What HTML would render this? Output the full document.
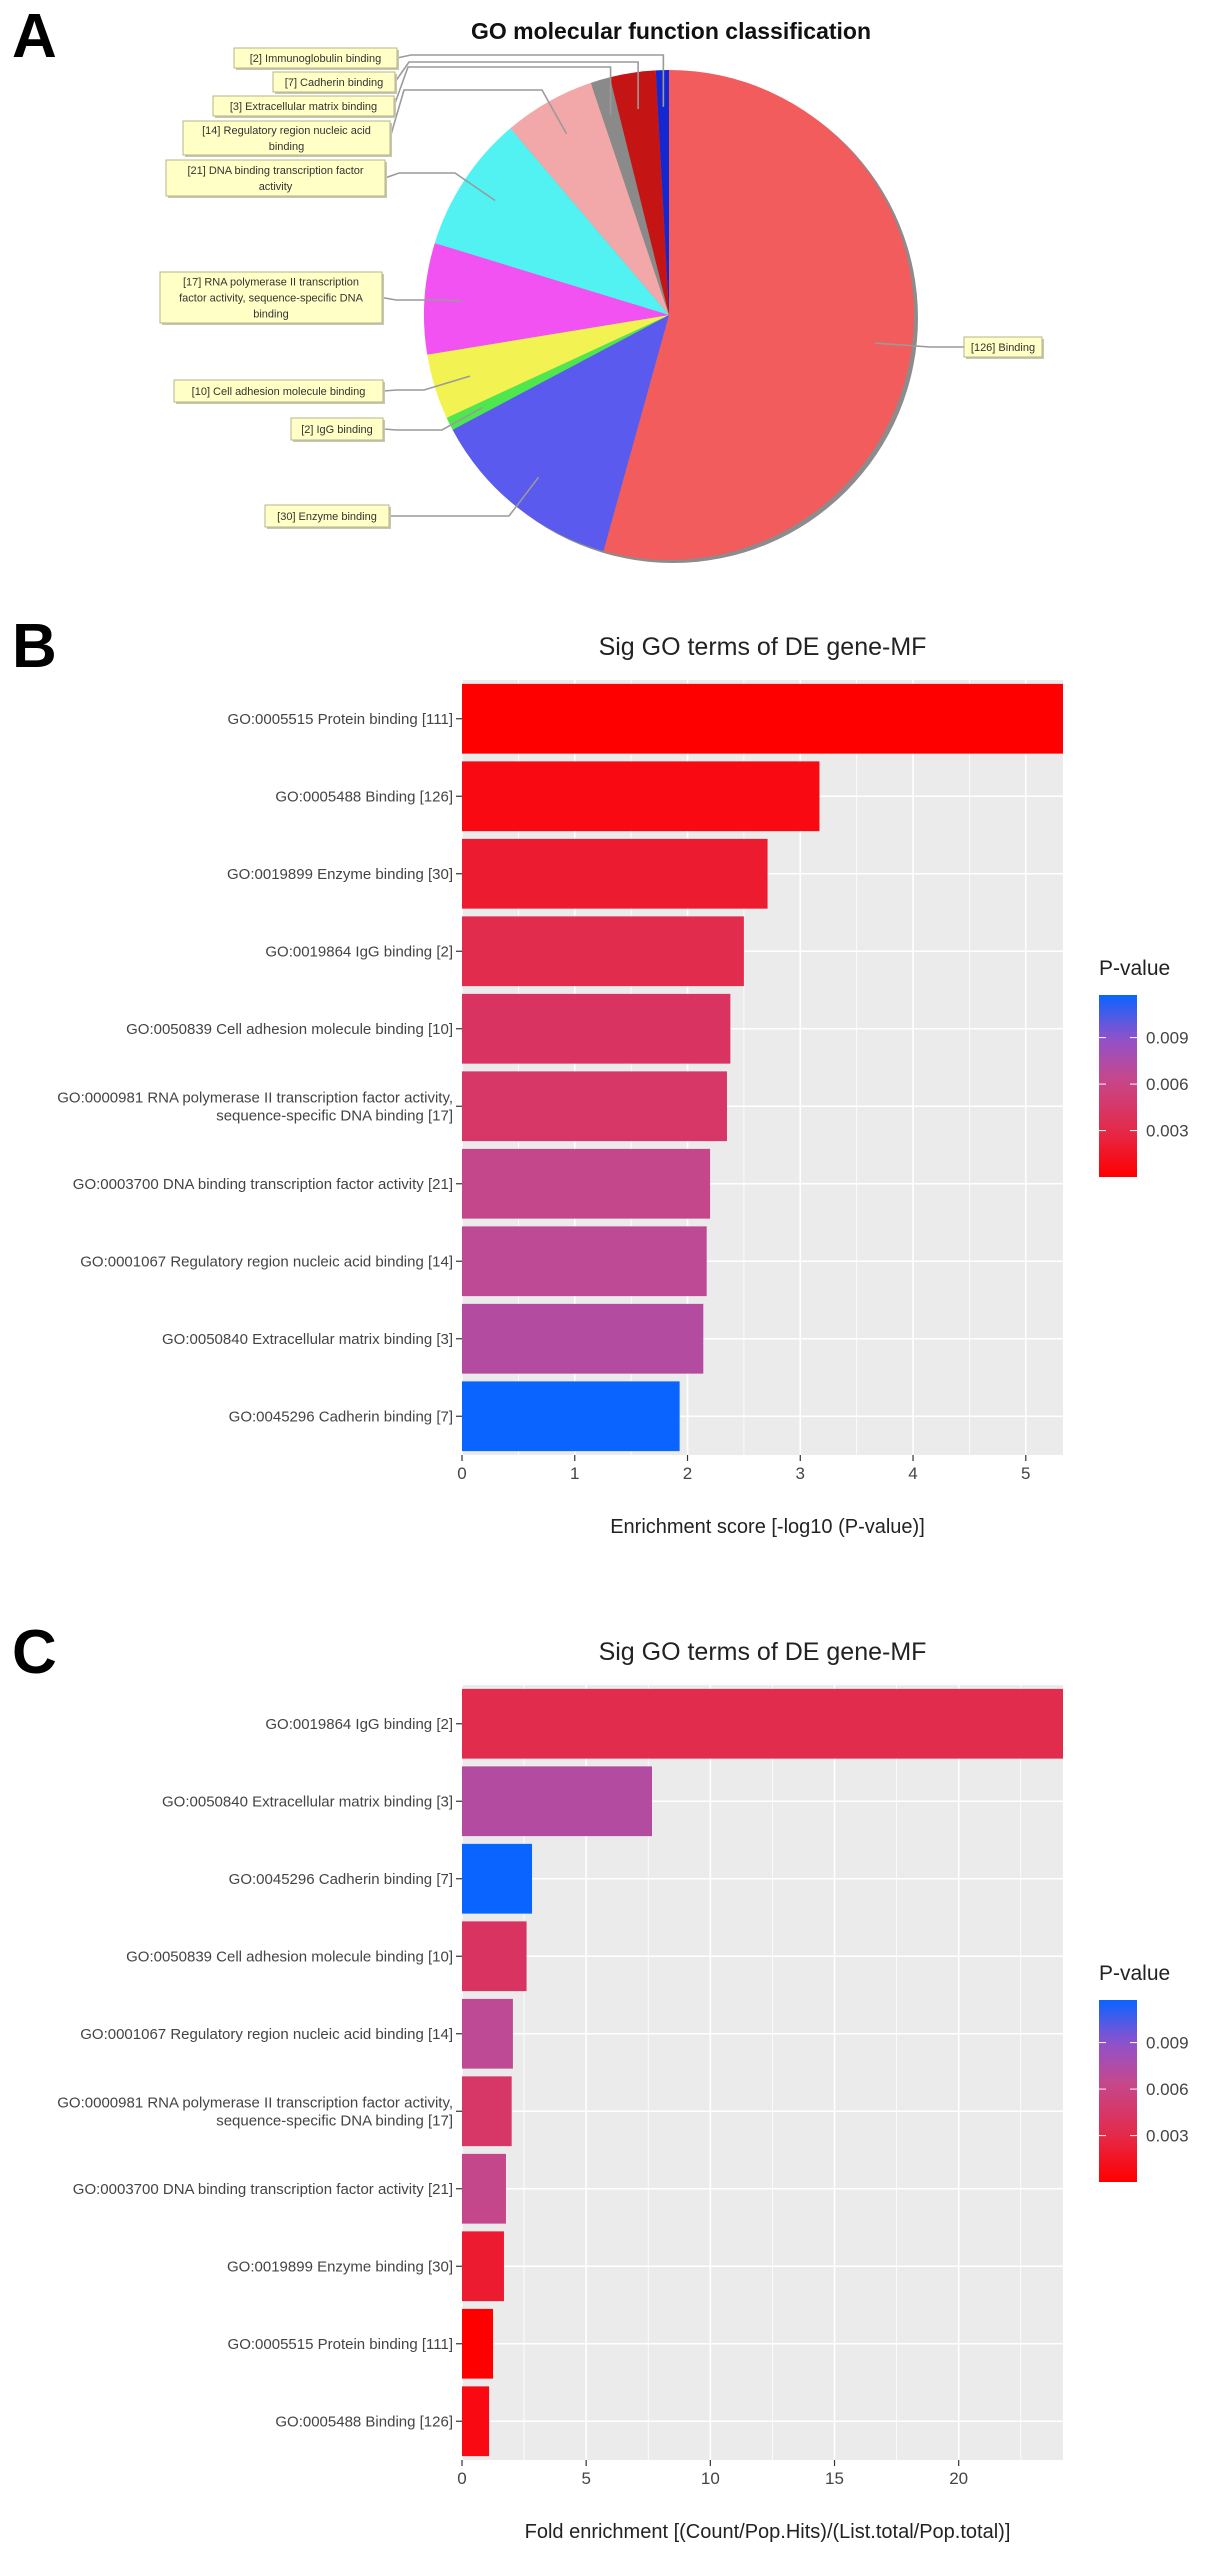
<!DOCTYPE html>
<html><head><meta charset="utf-8"><style>
html,body{margin:0;padding:0;background:#fff}
svg{display:block;font-family:"Liberation Sans",Arial,sans-serif}
</style></head><body>
<svg id="fig" width="1205" height="2556" viewBox="0 0 1205 2556" xmlns="http://www.w3.org/2000/svg">
<defs>
<linearGradient id="pgrad" x1="0" y1="1" x2="0" y2="0"></linearGradient>
</defs>
<text x="12" y="57" font-size="62" font-weight="bold" fill="#000">A</text>
<text x="12" y="667" font-size="62" font-weight="bold" fill="#000">B</text>
<text x="12" y="1673" font-size="62" font-weight="bold" fill="#000">C</text>
<text x="671" y="39" font-size="23" font-weight="bold" fill="#111" text-anchor="middle">GO molecular function classification</text>
<g id="pie"></g>
<g id="chartB"></g>
<g id="chartC"></g>
</svg>
<script>
// ---- Pie data (panel A) ----
const pieLabels = ["Binding","Enzyme binding","IgG binding","Cell adhesion molecule binding","RNA polymerase II transcription factor activity, sequence-specific DNA binding","DNA binding transcription factor activity","Regulatory region nucleic acid binding","Extracellular matrix binding","Cadherin binding","Immunoglobulin binding"];
const pieCounts = [126,30,2,10,17,21,14,3,7,2];
const pieColors = ["#f25c5c","#5a5aee","#4ee84e","#f2f252","#f252f2","#52f2f2","#f2a8a8","#8a8a8a","#c41414","#1428d2"];

// ---- Bar chart data (panels B & C) ----
const goTerms = ["GO:0005515 Protein binding [111]","GO:0005488 Binding [126]","GO:0019899 Enzyme binding [30]","GO:0019864 IgG binding [2]","GO:0050839 Cell adhesion molecule binding [10]","GO:0000981 RNA polymerase II transcription factor activity,|sequence-specific DNA binding [17]","GO:0003700 DNA binding transcription factor activity [21]","GO:0001067 Regulatory region nucleic acid binding [14]","GO:0050840 Extracellular matrix binding [3]","GO:0045296 Cadherin binding [7]"];
const enrichScores = [5.33,3.17,2.71,2.50,2.38,2.35,2.20,2.17,2.14,1.93];
const foldEnrich = [1.25,1.09,1.69,24.2,2.6,2.0,1.77,2.05,7.65,2.82];
const ticksB = [0,1,2,3,4,5];
const ticksC = [0,5,10,15,20];
const legendTicks = [0.003,0.006,0.009];

const NS="http://www.w3.org/2000/svg";
function mk(parent,tag,attrs,txt){const e=document.createElementNS(NS,tag);for(const k in attrs)e.setAttribute(k,attrs[k]);if(txt!==undefined)e.textContent=txt;parent.appendChild(e);return e;}

// ---- Pie ----
(function(){
  const g=document.getElementById('pie');
  const cx=669,cy=315,r=245;
  const total=pieCounts.reduce((a,b)=>a+b,0);
  const sh=mk(g,'circle',{cx:cx+4,cy:cy+3,r:r,fill:'#8c8c8c'});
  
  
  let a0=0; const mids=[];
  function pt(a,rr){const t=a*Math.PI/180;return [cx+rr*Math.sin(t),cy-rr*Math.cos(t)];}
  pieCounts.forEach((c,i)=>{
    const a1=a0+c/total*360;
    const p0=pt(a0,r),p1=pt(a1,r);
    const large=(a1-a0)>180?1:0;
    const s=mk(g,'path',{d:`M${cx},${cy}L${p0[0]},${p0[1]}A${r},${r} 0 ${large} 1 ${p1[0]},${p1[1]}Z`,fill:pieColors[i]});
    
    
    mids.push((a0+a1)/2); a0=a1;
  });
  // label boxes: layout only [x1,y1,x2,y2, elbowY, kneeX]
  const boxes=[[964,337,1042,357,347,930],[265,505,389,527,516,509],[291,418,383,440,430,442],[174,380,383,402,390,424],[160,272,382,323,300,440],[166,160,385,196,173,455],[183,121,390,155,90,542],[213,96,394,116,67,null],[273,72,395,92,62,null],[234,48,397,68,55,null]];
  const lines=[["["+pieCounts[0]+"] Binding"],["["+pieCounts[1]+"] Enzyme binding"],["["+pieCounts[2]+"] IgG binding"],["["+pieCounts[3]+"] Cell adhesion molecule binding"],["["+pieCounts[4]+"] RNA polymerase II transcription","factor activity, sequence-specific DNA","binding"],["["+pieCounts[5]+"] DNA binding transcription factor","activity"],["["+pieCounts[6]+"] Regulatory region nucleic acid","binding"],["["+pieCounts[7]+"] Extracellular matrix binding"],["["+pieCounts[8]+"] Cadherin binding"],["["+pieCounts[9]+"] Immunoglobulin binding"]];
  boxes.forEach((b,i)=>{
    const p=pt(mids[i],r*0.85);
    const left=(i===0);
    const bx=left?b[0]:b[2], bym=(b[1]+b[3])/2;
    const kx=b[5]===null?p[0]:b[5];
    const dx=left?-14:14;
    const ln=mk(g,'polyline',{points:`${bx},${bym} ${bx+dx},${b[4]} ${kx},${b[4]} ${p[0]},${p[1]}`,fill:'none',stroke:'#9a9a9a','stroke-width':1.6});
    
    
    const bs=mk(g,'rect',{x:b[0]+2,y:b[1]+2,width:b[2]-b[0],height:b[3]-b[1],fill:'#c8c8b0'});
    
    
    const br=mk(g,'rect',{x:b[0],y:b[1],width:b[2]-b[0],height:b[3]-b[1],fill:'#ffffc6',stroke:'#b4b48c','stroke-width':1});
    
    
    const L=lines[i]; const h=b[3]-b[1]; const lh=16;
    const y0=b[1]+h/2-(L.length-1)*lh/2+4;
    L.forEach((t,j)=>{
      const tx=mk(g,'text',{x:(b[0]+b[2])/2,y:y0+j*lh,'font-size':11,fill:'#333','text-anchor':'middle'},t);
      
      
    });
  });
})();

// ---- color scale for p-values ----
const stops=[[0,[255,0,0]],[0.27,[226,44,78]],[0.55,[196,72,142]],[0.77,[140,82,205]],[1,[10,100,255]]];
function col(t){t=Math.max(0,Math.min(1,t));for(let i=1;i<stops.length;i++){if(t<=stops[i][0]){const a=stops[i-1],b=stops[i];const f=(t-a[0])/(b[0]-a[0]);const c=a[1].map((v,k)=>Math.round(v+(b[1][k]-v)*f));return `rgb(${c[0]},${c[1]},${c[2]})`;}}return 'rgb(10,100,255)';}
const pvals=enrichScores.map(s=>Math.pow(10,-s));
const pmin=Math.min(...pvals),pmax=Math.max(...pvals);
function pT(p){return (p-pmin)/(pmax-pmin);}
(function(){const gr=document.getElementById('pgrad');for(let i=0;i<=20;i++){mk(gr,'stop',{offset:(i/20),'stop-color':col(i/20)});}})();

function drawChart(gid,order,values,xmax,ticks,minorStep,top,axisTitle){
  const g=document.getElementById(gid);
  const x0=462,x1=1063,bot=top+775;
  const n=order.length,band=(bot-top)/n,bh=band*0.9;
  const X=v=>x0+v/xmax*(x1-x0);
  const bg=mk(g,'rect',{x:x0,y:top,width:x1-x0,height:bot-top,fill:'#ebebeb'});
  
  
  for(let v=minorStep;v<xmax;v+=minorStep*2){const l=mk(g,'line',{x1:X(v),x2:X(v),y1:top,y2:bot,stroke:'#fff','stroke-width':0.8});
    
    }
  ticks.forEach(v=>{const l=mk(g,'line',{x1:X(v),x2:X(v),y1:top,y2:bot,stroke:'#fff','stroke-width':1.6});
    
    });
  order.forEach((idx,k)=>{const yc=top+band*(k+0.5);
    const l=mk(g,'line',{x1:x0,x2:x1,y1:yc,y2:yc,stroke:'#fff','stroke-width':1.6});
    
    });
  order.forEach((idx,k)=>{
    const yc=top+band*(k+0.5);
    const v=Math.min(values[idx],xmax);
    const r=mk(g,'rect',{x:x0,y:yc-bh/2,width:X(v)-x0,height:bh,fill:col(pT(pvals[idx]))});
    
    
    const tk=mk(g,'line',{x1:x0-6,x2:x0,y1:yc,y2:yc,stroke:'#333','stroke-width':1.2});
    
    
    const parts=goTerms[idx].split('|');
    parts.forEach((t,j)=>{
      const ty=yc+5+(j-(parts.length-1)/2)*18;
      const tx=mk(g,'text',{x:x0-9,y:ty,'font-size':15,fill:'#444','text-anchor':'end'},t);
      
      
    });
  });
  ticks.forEach(v=>{
    const tk=mk(g,'line',{x1:X(v),x2:X(v),y1:bot,y2:bot+6,stroke:'#333','stroke-width':1.2});
    
    
    const tx=mk(g,'text',{x:X(v),y:bot+24,'font-size':17,fill:'#444','text-anchor':'middle'},String(v));
    
    
  });
  const tt=mk(g,'text',{x:(x0+x1)/2,y:top-25,'font-size':25,fill:'#222','text-anchor':'middle'},'Sig GO terms of DE gene-MF');
  
  
  const at=mk(g,'text',{x:(x0+x1)/2+5,y:bot+78,'font-size':20,fill:'#222','text-anchor':'middle'},axisTitle);
  
  
  // legend
  const lt=mk(g,'text',{x:1099,y:top+295,'font-size':21,fill:'#222'},'P-value');
  
  
  const cbTop=top+315,cbBot=top+497;
  const cb=mk(g,'rect',{x:1099,y:cbTop,width:38,height:cbBot-cbTop,fill:'url(#pgrad)'});
  
  
  legendTicks.forEach(p=>{
    const yy=cbBot-pT(p)*(cbBot-cbTop);
    const m1=mk(g,'line',{x1:1099,x2:1106,y1:yy,y2:yy,stroke:'#fff','stroke-width':1});
    
    
    const m2=mk(g,'line',{x1:1130,x2:1137,y1:yy,y2:yy,stroke:'#fff','stroke-width':1});
    
    
    const tl=mk(g,'text',{x:1146,y:yy+6,'font-size':17,fill:'#444'},p.toFixed(3));
    
    
  });
}
const orderB=enrichScores.map((v,i)=>i).sort((a,b)=>enrichScores[b]-enrichScores[a]);
const orderC=foldEnrich.map((v,i)=>i).sort((a,b)=>foldEnrich[b]-foldEnrich[a]);
drawChart('chartB',orderB,enrichScores,5.33,ticksB,0.5,680,'Enrichment score  [-log10 (P-value)]');
drawChart('chartC',orderC,foldEnrich,24.2,ticksC,2.5,1685,'Fold enrichment [(Count/Pop.Hits)/(List.total/Pop.total)]');
</script>
</body></html>
